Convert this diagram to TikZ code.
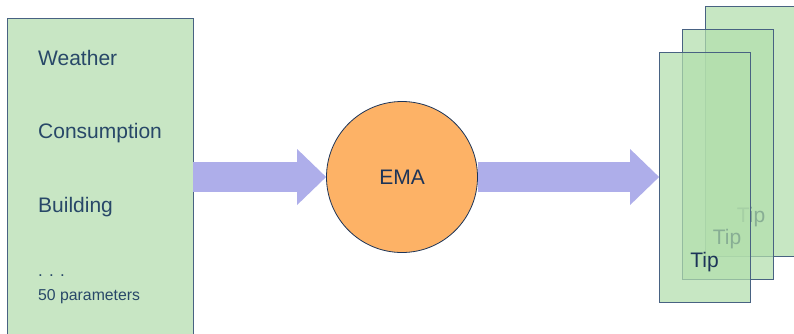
\documentclass[tikz,border=0pt]{standalone}
\usepackage{fontspec}
\setmainfont{Liberation Sans}
\usetikzlibrary{arrows.meta,positioning}
\definecolor{boxgreen}{RGB}{200,230,196}
\definecolor{tipgreen}{RGB}{178,222,172}
\definecolor{edgeblue}{RGB}{72,98,130}
\definecolor{inkblue}{RGB}{40,72,104}
\definecolor{emanavy}{RGB}{28,52,88}
\definecolor{emaorange}{RGB}{253,178,102}
\definecolor{flowblue}{RGB}{174,174,234}

\tikzset{
  inbox/.style={rectangle,draw=edgeblue,fill=boxgreen,line width=0.8pt,minimum width=186pt,minimum height=340pt},
  paramtext/.style={anchor=base west,text=inkblue,inner sep=0pt,font=\fontsize{21}{25}\selectfont},
  dotstext/.style={paramtext,font=\fontsize{17}{20}\selectfont},
  smalltext/.style={paramtext,font=\fontsize{15.8}{18}\selectfont},
  tipcard/.style={rectangle,draw=edgeblue,fill=tipgreen,fill opacity=0.72,line width=0.8pt,minimum width=91pt,minimum height=250pt,inner sep=0pt},
  tiptext/.style={anchor=base west,text=emanavy,inner sep=0pt,font=\fontsize{21}{25}\selectfont},
  flow/.style={draw=flowblue,line width=30pt,-{Triangle[width=56pt,length=29pt,line width=0pt]}}
}

\begin{document}
\begin{tikzpicture}[x=1pt,y=-1pt]
\clip (0,0) rectangle (794,333);
% inputs
\node[inbox] (inputs) at (100,188) {};
\node[paramtext] (weather) at (38,65) {Weather};
\node[paramtext] (consumption) at (38,138) {Consumption};
\node[paramtext] (building) at (38,212) {Building};
\node[dotstext] (dots) at (38,276) {. . .};
\node[smalltext] (params) at (38,300) {50 parameters};
% model
\node[circle,draw=emanavy,fill=emaorange,line width=0.8pt,minimum size=151pt,text=emanavy,font=\fontsize{21}{25}\selectfont] (ema) at (402,177) {EMA};
% tips
\node[tipcard] (back) at (750.5,131) {};
\node[tiptext] (backtip) at ([shift={(32,-34)}]back.south west) {Tip};
\node[tipcard] (middle) at (727.5,154) {};
\node[tiptext] (middletip) at ([shift={(31,-35)}]middle.south west) {Tip};
\node[tipcard] (front) at (705,177) {};
\node[tiptext] (fronttip) at ([shift={(31,-35)}]front.south west) {Tip};
% flows
\draw[flow] (inputs.east |- ema) -- (ema.west);
\draw[flow] (ema.east) -- (front.west);
\end{tikzpicture}
\end{document}
